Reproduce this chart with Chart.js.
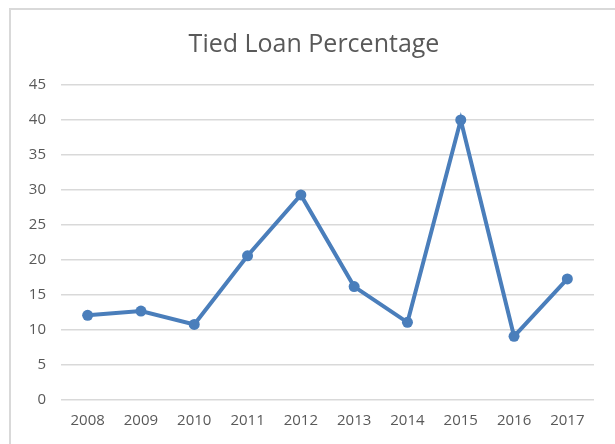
<!DOCTYPE html>
<html>
<head>
<meta charset="utf-8">
<script src="https://cdn.jsdelivr.net/npm/chart.js@4/dist/chart.umd.min.js"></script>
<style>
  html, body { margin: 0; padding: 0; background: #fff; }
  #wrap { position: relative; width: 615px; height: 444px; overflow: hidden; }
  #frame { position: absolute; left: 9px; top: 8px; width: 700px; height: 600px;
           border: 2px solid #d9d9d9; box-sizing: border-box; }
  #c { position: absolute; left: 0; top: 0; }
</style>
</head>
<body>
<div id="wrap">
  <div id="frame"></div>
  <canvas id="c" width="615" height="444"></canvas>
</div>
<script>
const titleText = "Tied Loan Percentage";
const years = ["2008","2009","2010","2011","2012","2013","2014","2015","2016","2017"];
const tiedLoanPct = [12.1, 12.7, 10.8, 20.6, 29.3, 16.2, 11.1, 40.0, 9.1, 17.3];
const yTickMin = 0;
const yTickMax = 45;
const yTickStep = 5;

const font = "'Open Sans', 'Liberation Sans', sans-serif";

const shiftTitle = {
  id: 'shiftTitle',
  afterLayout(chart) {
    if (chart.titleBlock) { chart.titleBlock.left = 34; }
  }
};

new Chart(document.getElementById('c'), {
  type: 'line',
  data: {
    labels: years,
    datasets: [{
      data: tiedLoanPct,
      borderColor: '#4a7ebb',
      backgroundColor: '#4a7ebb',
      borderWidth: 4,
      pointRadius: 5.5,
      pointHoverRadius: 5.5,
      pointBorderWidth: 0,
      tension: 0,
      fill: false
    }]
  },
  plugins: [shiftTitle],
  options: {
    responsive: false,
    animation: false,
    devicePixelRatio: 1,
    layout: { padding: { left: 0, right: 21, top: 0, bottom: 0 } },
    plugins: {
      legend: { display: false },
      tooltip: { enabled: false },
      title: {
        display: true,
        text: titleText,
        color: '#595959',
        font: { family: font, size: 25, weight: 'normal' },
        padding: { top: 30, bottom: 25 }
      }
    },
    scales: {
      x: {
        offset: true,
        grid: { display: false, drawTicks: false },
        border: { display: false },
        ticks: { color: '#595959', font: { family: font, size: 15 }, padding: 12, maxRotation: 0 },
        afterFit: s => { s.height = 44; }
      },
      y: {
        min: yTickMin,
        max: yTickMax,
        grid: { color: '#d9d9d9', lineWidth: 1.5, drawTicks: false },
        border: { display: false },
        ticks: { stepSize: yTickStep, color: '#595959', font: { family: font, size: 15 }, padding: 15 },
        afterFit: s => { s.width = 61; }
      }
    }
  }
});
</script>
</body>
</html>
